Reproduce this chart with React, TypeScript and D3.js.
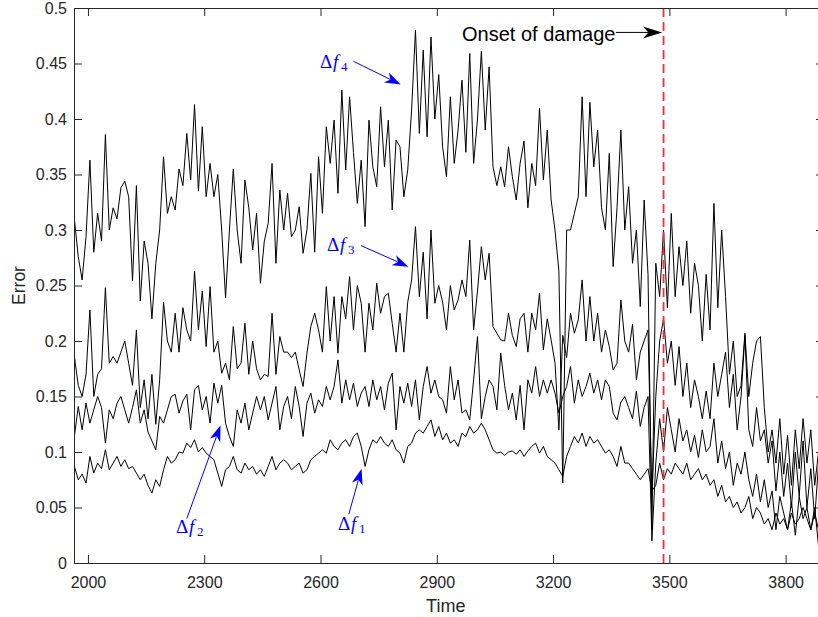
import React, { useEffect, useRef } from 'react';
import * as d3 from 'd3';

// sample times: T0, T0 + DT, ...
const T0 = 1965;
const DT = 10;

const xTicks = [2000, 2300, 2600, 2900, 3200, 3500, 3800];
const yTicks = [0, 0.05, 0.1, 0.15, 0.2, 0.25, 0.3, 0.35, 0.4, 0.45, 0.5];
const onsetTime = 3485;

// one row = 100 time units
const f4 = [
  0.31, 0.276, 0.255, 0.294, 0.363, 0.28, 0.315, 0.29, 0.386, 0.30,
  0.32, 0.31, 0.338, 0.344, 0.33, 0.254, 0.34, 0.236, 0.29, 0.27,
  0.22, 0.27, 0.30, 0.366, 0.315, 0.33, 0.318, 0.355, 0.34, 0.387,
  0.345, 0.413, 0.335, 0.393, 0.33, 0.36, 0.33, 0.35, 0.30, 0.239,
  0.30, 0.355, 0.30, 0.27, 0.345, 0.32, 0.282, 0.315, 0.252, 0.29,
  0.306, 0.36, 0.27, 0.336, 0.30, 0.333, 0.294, 0.30, 0.321, 0.279,
  0.30, 0.351, 0.28, 0.366, 0.315, 0.393, 0.36, 0.399, 0.333, 0.426,
  0.354, 0.42, 0.37, 0.324, 0.363, 0.303, 0.399, 0.357, 0.339, 0.411,
  0.357, 0.399, 0.318, 0.381, 0.375, 0.33, 0.354, 0.408, 0.48, 0.387,
  0.462, 0.384, 0.474, 0.40, 0.44, 0.375, 0.348, 0.42, 0.36, 0.39,
  0.435, 0.37, 0.459, 0.36, 0.40, 0.461, 0.39, 0.447, 0.357, 0.34,
  0.357, 0.339, 0.375, 0.348, 0.327, 0.36, 0.38, 0.32, 0.36, 0.34,
  0.41, 0.345, 0.39, 0.327, 0.30, 0.263, 0.072, 0.30, 0.30, 0.315,
  0.33, 0.42, 0.33, 0.415, 0.357, 0.39, 0.32, 0.30, 0.369, 0.267,
  0.32, 0.39, 0.30, 0.339, 0.27, 0.30, 0.231, 0.327, 0.26, 0.03,
  0.27, 0.24, 0.30, 0.23, 0.315, 0.24, 0.285, 0.25, 0.29, 0.225,
  0.27, 0.25, 0.20, 0.26, 0.21, 0.324, 0.23, 0.30, 0.24, 0.17,
  0.20, 0.15, 0.16, 0.207, 0.15, 0.18, 0.20, 0.204, 0.14, 0.10,
  0.12, 0.09, 0.13, 0.08, 0.115, 0.07, 0.12, 0.085, 0.13, 0.09,
  0.12, 0.07, 0.10,
];

const f3 = [
  0.186, 0.16, 0.15, 0.17, 0.228, 0.15, 0.17, 0.175, 0.248, 0.18,
  0.186, 0.18, 0.19, 0.20, 0.18, 0.16, 0.21, 0.14, 0.165, 0.13,
  0.17, 0.125, 0.165, 0.235, 0.20, 0.19, 0.225, 0.19, 0.23, 0.21,
  0.20, 0.263, 0.21, 0.245, 0.195, 0.249, 0.19, 0.20, 0.171, 0.18,
  0.165, 0.213, 0.175, 0.18, 0.216, 0.17, 0.20, 0.175, 0.165, 0.17,
  0.168, 0.225, 0.17, 0.204, 0.19, 0.19, 0.185, 0.19, 0.174, 0.159,
  0.189, 0.213, 0.225, 0.21, 0.19, 0.249, 0.20, 0.24, 0.189, 0.24,
  0.22, 0.258, 0.21, 0.25, 0.234, 0.19, 0.234, 0.21, 0.252, 0.225,
  0.24, 0.243, 0.216, 0.19, 0.225, 0.19, 0.235, 0.255, 0.303, 0.24,
  0.28, 0.22, 0.30, 0.234, 0.25, 0.235, 0.21, 0.25, 0.228, 0.237,
  0.255, 0.24, 0.291, 0.21, 0.245, 0.285, 0.255, 0.279, 0.213, 0.207,
  0.201, 0.20, 0.225, 0.205, 0.195, 0.22, 0.225, 0.19, 0.225, 0.21,
  0.243, 0.192, 0.22, 0.201, 0.18, 0.12, 0.205, 0.185, 0.225, 0.207,
  0.219, 0.255, 0.20, 0.24, 0.20, 0.225, 0.19, 0.21, 0.195, 0.174,
  0.18, 0.237, 0.20, 0.19, 0.215, 0.165, 0.19, 0.20, 0.21, 0.06,
  0.15, 0.20, 0.22, 0.18, 0.20, 0.16, 0.195, 0.15, 0.18, 0.14,
  0.165, 0.15, 0.13, 0.155, 0.13, 0.18, 0.15, 0.17, 0.19, 0.14,
  0.17, 0.12, 0.15, 0.205, 0.12, 0.105, 0.14, 0.11, 0.12, 0.09,
  0.11, 0.065, 0.10, 0.06, 0.09, 0.05, 0.10, 0.06, 0.11, 0.05,
  0.085, 0.04, 0.09,
];

const f2 = [
  0.114, 0.141, 0.12, 0.144, 0.126, 0.138, 0.15, 0.14, 0.108, 0.138,
  0.13, 0.144, 0.15, 0.138, 0.126, 0.14, 0.156, 0.126, 0.138, 0.118,
  0.11, 0.102, 0.132, 0.126, 0.138, 0.15, 0.152, 0.135, 0.146, 0.152,
  0.12, 0.156, 0.16, 0.138, 0.15, 0.126, 0.162, 0.144, 0.16, 0.126,
  0.114, 0.105, 0.138, 0.126, 0.144, 0.12, 0.135, 0.15, 0.138, 0.15,
  0.129, 0.144, 0.159, 0.12, 0.141, 0.15, 0.13, 0.159, 0.141, 0.114,
  0.144, 0.153, 0.135, 0.147, 0.141, 0.159, 0.147, 0.159, 0.183, 0.144,
  0.165, 0.147, 0.162, 0.141, 0.153, 0.159, 0.141, 0.165, 0.147, 0.159,
  0.138, 0.162, 0.171, 0.12, 0.159, 0.144, 0.162, 0.141, 0.165, 0.129,
  0.159, 0.177, 0.153, 0.165, 0.15, 0.147, 0.135, 0.177, 0.147, 0.165,
  0.135, 0.138, 0.129, 0.165, 0.204, 0.13, 0.15, 0.165, 0.159, 0.138,
  0.189, 0.16, 0.138, 0.153, 0.129, 0.16, 0.12, 0.165, 0.153, 0.177,
  0.15, 0.165, 0.153, 0.165, 0.153, 0.135, 0.15, 0.159, 0.177, 0.144,
  0.165, 0.15, 0.159, 0.171, 0.153, 0.165, 0.147, 0.165, 0.159, 0.135,
  0.129, 0.145, 0.15, 0.14, 0.13, 0.155, 0.123, 0.14, 0.15, 0.02,
  0.09, 0.13, 0.10, 0.14, 0.12, 0.10, 0.13, 0.11, 0.12, 0.10,
  0.115, 0.095, 0.12, 0.10, 0.105, 0.13, 0.09, 0.11, 0.085, 0.10,
  0.07, 0.09, 0.08, 0.10, 0.075, 0.06, 0.08, 0.055, 0.075, 0.05,
  0.065, 0.03, 0.06, 0.045, 0.03, 0.055, 0.025, 0.06, 0.04, 0.05,
  0.03, 0.05, 0.015,
];

const f1 = [
  0.087, 0.075, 0.08, 0.072, 0.096, 0.081, 0.09, 0.085, 0.102, 0.084,
  0.09, 0.096, 0.087, 0.093, 0.085, 0.087, 0.081, 0.075, 0.08, 0.07,
  0.063, 0.075, 0.069, 0.084, 0.096, 0.09, 0.093, 0.10, 0.099, 0.108,
  0.104, 0.111, 0.10, 0.104, 0.099, 0.096, 0.093, 0.081, 0.069, 0.084,
  0.087, 0.096, 0.084, 0.081, 0.09, 0.084, 0.087, 0.08, 0.084, 0.078,
  0.087, 0.096, 0.084, 0.09, 0.093, 0.09, 0.084, 0.087, 0.09, 0.081,
  0.084, 0.093, 0.096, 0.099, 0.102, 0.099, 0.111, 0.105, 0.102, 0.108,
  0.111, 0.105, 0.114, 0.117, 0.105, 0.087, 0.102, 0.111, 0.108, 0.114,
  0.108, 0.105, 0.111, 0.102, 0.099, 0.09, 0.105, 0.108, 0.117, 0.12,
  0.117, 0.123, 0.129, 0.114, 0.123, 0.111, 0.117, 0.108, 0.111, 0.105,
  0.117, 0.114, 0.123, 0.117, 0.12, 0.126, 0.12, 0.111, 0.102, 0.099,
  0.10, 0.097, 0.10, 0.101, 0.098, 0.102, 0.096, 0.101, 0.105, 0.108,
  0.099, 0.105, 0.096, 0.093, 0.09, 0.084, 0.078, 0.096, 0.105, 0.114,
  0.108, 0.117, 0.105, 0.114, 0.108, 0.111, 0.105, 0.099, 0.102, 0.096,
  0.087, 0.105, 0.09, 0.09, 0.085, 0.08, 0.075, 0.08, 0.085, 0.065,
  0.07, 0.09, 0.075, 0.085, 0.08, 0.09, 0.085, 0.08, 0.09, 0.075,
  0.08, 0.085, 0.075, 0.08, 0.07, 0.075, 0.06, 0.07, 0.055, 0.06,
  0.05, 0.055, 0.045, 0.05, 0.06, 0.04, 0.05, 0.045, 0.035, 0.04,
  0.03, 0.045, 0.035, 0.04, 0.03, 0.045, 0.035, 0.04, 0.05, 0.04,
  0.03, 0.045, 0.03,
];

const series = [f1, f2, f3, f4];

// annotation labels: subscript, text anchor (time, value), arrow tail and tip (time, value)
const labels = [
  { sub: '4', at: [2599, 0.446], tail: [2685, 0.452], tip: [2807, 0.431] },
  { sub: '3', at: [2617, 0.281], tail: [2704, 0.286], tip: [2827, 0.267] },
  { sub: '2', at: [2227, 0.027], tail: [2255, 0.040], tip: [2342, 0.124] },
  { sub: '1', at: [2645, 0.030], tail: [2673, 0.044], tip: [2706, 0.085] },
];

export default function App() {
  const ref = useRef<SVGSVGElement>(null);

  useEffect(() => {
    if (!ref.current) return;
    const svg = d3.select(ref.current);
    svg.selectAll('*').remove();

    const ink = '#262626';
    const left = 74, top = 8, right = 824, bottom = 563;

    const x = d3.scaleLinear().domain([1964, 3899]).range([left, right]);
    const y = d3.scaleLinear().domain([0, 0.5]).range([bottom, top]);

    svg.append('rect').attr('width', 818).attr('height', 617).attr('fill', '#fff');

    svg.append('clipPath').attr('id', 'plot-clip')
      .append('rect')
      .attr('x', left).attr('y', top)
      .attr('width', right - left).attr('height', bottom - top);

    const line = d3.line<number>()
      .x((d, i) => x(T0 + i * DT))
      .y(d => y(d));

    const g = svg.append('g').attr('clip-path', 'url(#plot-clip)');
    series.forEach(s => {
      g.append('path')
        .datum(s)
        .attr('fill', 'none')
        .attr('stroke', '#000')
        .attr('stroke-width', 1)
        .attr('stroke-linejoin', 'round')
        .attr('d', line);
    });

    // onset of damage marker
    svg.append('line')
      .attr('x1', x(onsetTime)).attr('x2', x(onsetTime))
      .attr('y1', top).attr('y2', bottom)
      .attr('stroke', '#e8343c')
      .attr('stroke-width', 1.8)
      .attr('stroke-dasharray', '9,5');

    // axes (ticks inside, box style)
    const styleAxis = (sel: any) => {
      sel.attr('font-family', '"Liberation Sans", Arial, Helvetica, sans-serif')
        .attr('font-size', 16);
      sel.selectAll('path, line').attr('stroke', ink);
      sel.selectAll('text').attr('fill', ink);
    };

    svg.append('g')
      .attr('transform', `translate(0,${bottom})`)
      .call(d3.axisBottom(x).tickValues(xTicks).tickSizeInner(-8).tickSizeOuter(0).tickPadding(14)
        .tickFormat(d => String(d)))
      .call(styleAxis);

    svg.append('g')
      .attr('transform', `translate(0,${top})`)
      .call(d3.axisTop(x).tickValues(xTicks).tickSizeInner(-8).tickSizeOuter(0).tickFormat(() => ''))
      .call(styleAxis);

    svg.append('g')
      .attr('transform', `translate(${left},0)`)
      .call(d3.axisLeft(y).tickValues(yTicks).tickSizeInner(-8).tickSizeOuter(0).tickPadding(7)
        .tickFormat(d => String(+(+d).toFixed(2))))
      .call(styleAxis);

    svg.append('g')
      .attr('transform', `translate(${right},0)`)
      .call(d3.axisRight(y).tickValues(yTicks).tickSizeInner(-8).tickSizeOuter(0).tickFormat(() => ''))
      .call(styleAxis);

    svg.append('text')
      .attr('x', (x(2000) + x(3800)) / 2 + 9)
      .attr('y', 611.5)
      .attr('text-anchor', 'middle')
      .attr('font-family', '"Liberation Sans", Arial, Helvetica, sans-serif')
      .attr('font-size', 18)
      .attr('fill', ink)
      .text('Time');

    svg.append('text')
      .attr('transform', `translate(25,${(top + bottom) / 2}) rotate(-90)`)
      .attr('text-anchor', 'middle')
      .attr('font-family', '"Liberation Sans", Arial, Helvetica, sans-serif')
      .attr('font-size', 17.5)
      .attr('fill', ink)
      .text('Error');

    // arrowhead (swept back)
    const head = (x1: number, y1: number, x2: number, y2: number, len: number, half: number) => {
      const dx = x2 - x1, dy = y2 - y1;
      const l = Math.hypot(dx, dy);
      const ux = dx / l, uy = dy / l;
      const nx = -uy, ny = ux;
      const bx = x2 - ux * len, by = y2 - uy * len;
      const mx = x2 - ux * len * 0.72, my = y2 - uy * len * 0.72;
      return `M${x2},${y2}L${bx + nx * half},${by + ny * half}L${mx},${my}L${bx - nx * half},${by - ny * half}Z`;
    };

    // "Onset of damage" text and arrow
    const onsetY = y(0.478);
    svg.append('text')
      .attr('x', x(2965)).attr('y', onsetY + 9)
      .attr('font-family', '"Liberation Sans", Arial, Helvetica, sans-serif')
      .attr('font-size', 20)
      .attr('fill', '#000')
      .text('Onset of damage');
    const ax1 = x(3362), ax2 = x(onsetTime) - 1.5;
    svg.append('line')
      .attr('x1', ax1).attr('x2', ax2 - 12)
      .attr('y1', onsetY).attr('y2', onsetY)
      .attr('stroke', '#000').attr('stroke-width', 1);
    svg.append('path')
      .attr('d', head(ax1, onsetY, ax2, onsetY, 19, 6))
      .attr('fill', '#000');

    // blue delta-f annotations
    const blue = '#0000ff';
    labels.forEach(lb => {
      const tx = x(lb.at[0]), ty = y(lb.at[1]);
      const t = svg.append('text')
        .attr('font-family', '"Liberation Serif", "DejaVu Serif", serif')
        .attr('fill', blue);
      t.append('tspan').attr('x', tx).attr('y', ty).attr('font-size', 19).text('Δ');
      t.append('tspan').attr('x', tx + 13).attr('y', ty).attr('font-size', 19)
        .attr('font-style', 'italic').text('f');
      t.append('tspan').attr('x', tx + 21).attr('y', ty + 3).attr('font-size', 13).text(lb.sub);

      const x1 = x(lb.tail[0]), y1 = y(lb.tail[1]);
      const x2 = x(lb.tip[0]), y2 = y(lb.tip[1]);
      const l = Math.hypot(x2 - x1, y2 - y1);
      const k = (l - 12) / l;
      svg.append('line')
        .attr('x1', x1).attr('y1', y1)
        .attr('x2', x1 + (x2 - x1) * k).attr('y2', y1 + (y2 - y1) * k)
        .attr('stroke', blue).attr('stroke-width', 1);
      svg.append('path')
        .attr('d', head(x1, y1, x2, y2, 16, 5.5))
        .attr('fill', blue);
    });
  }, []);

  return (
    <svg
      ref={ref}
      width={818}
      height={617}
      style={{ position: 'absolute', left: 0, top: 0, display: 'block' }}
    />
  );
}
